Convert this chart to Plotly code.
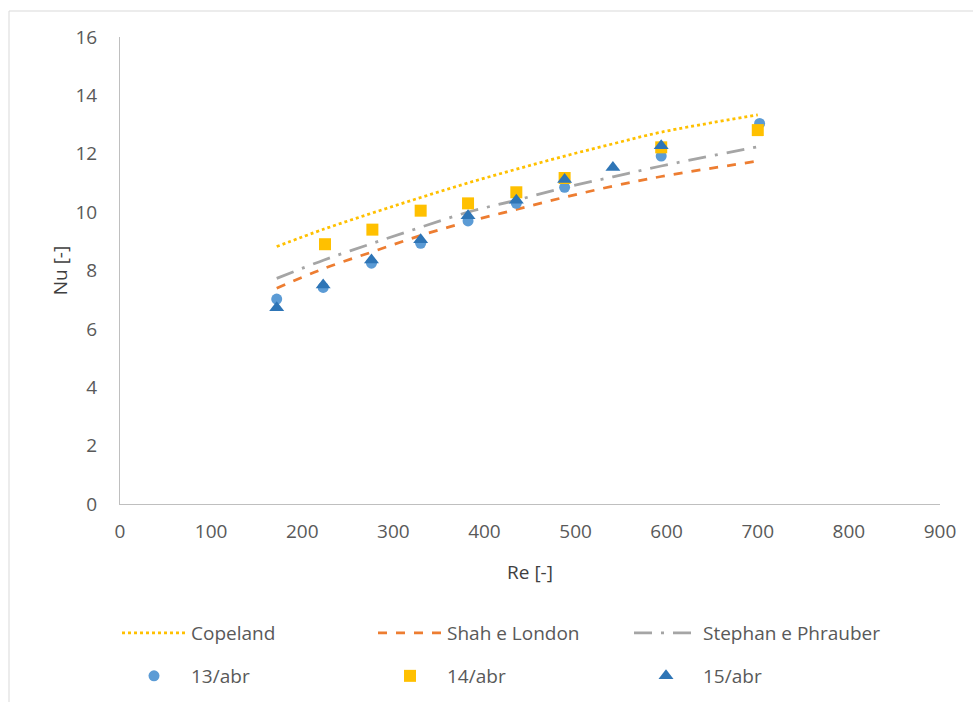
import plotly.graph_objects as go

# Reynolds numbers where the correlations are evaluated
re_corr = [172, 224, 277, 330, 382, 435, 488, 541, 594, 700]
nu_copeland = [8.82, 9.42, 9.97, 10.50, 11.00, 11.47, 11.92, 12.34, 12.74, 13.33]
nu_shah_london = [7.39, 8.07, 8.64, 9.20, 9.67, 10.09, 10.51, 10.89, 11.22, 11.75]
nu_stephan = [7.73, 8.36, 8.93, 9.48, 10.00, 10.41, 10.84, 11.21, 11.58, 12.24]

# Experimental runs
re_13 = [172, 223, 276, 330, 382, 435, 488, 594, 702]
nu_13 = [7.02, 7.42, 8.25, 8.93, 9.70, 10.30, 10.85, 11.92, 13.04]

re_14 = [225, 277, 330, 382, 435, 488, 594, 700]
nu_14 = [8.90, 9.40, 10.05, 10.30, 10.68, 11.17, 12.22, 12.81]

re_15 = [172, 223, 276, 330, 382, 435, 488, 541, 594]
nu_15 = [6.72, 7.50, 8.36, 9.05, 9.88, 10.41, 11.12, 11.53, 12.27]

x_ticks = [0, 100, 200, 300, 400, 500, 600, 700, 800, 900]
y_ticks = [0, 2, 4, 6, 8, 10, 12, 14, 16]

FONT = "Open Sans, Lato, sans-serif"
TXT = "#595959"
FS = 19

fig = go.Figure()

# Correlation curves (first legend row)
fig.add_trace(go.Scatter(
    x=re_corr, y=nu_copeland, mode="lines", name="Copeland", legend="legend",
    line=dict(color="#FFC000", width=2.75, dash="dot", shape="spline"),
))
fig.add_trace(go.Scatter(
    x=re_corr, y=nu_shah_london, mode="lines", name="Shah e London", legend="legend",
    line=dict(color="#ED7D31", width=2.75, dash="dash", shape="spline"),
))
fig.add_trace(go.Scatter(
    x=re_corr, y=nu_stephan, mode="lines", name="Stephan e Phrauber", legend="legend",
    line=dict(color="#A5A5A5", width=2.75, dash="18px,9px,3px,9px", shape="spline"),
))

# Measured points (second legend row)
fig.add_trace(go.Scatter(
    x=re_13, y=nu_13, mode="markers", name="13/abr", legend="legend2",
    marker=dict(symbol="circle", size=11, color="#5B9BD5"),
))
fig.add_trace(go.Scatter(
    x=re_14, y=nu_14, mode="markers", name="14/abr", legend="legend2",
    marker=dict(symbol="square", size=12, color="#FFC000"),
))
fig.add_trace(go.Scatter(
    x=re_15, y=nu_15, mode="markers", name="15/abr", legend="legend2",
    marker=dict(symbol="triangle-up", size=13, color="#2E75B6"),
))

legend_common = dict(
    orientation="h", xref="container", yref="container",
    xanchor="left", yanchor="middle",
    entrywidth=177, entrywidthmode="pixels", itemwidth=64,
    font=dict(family=FONT, size=FS, color=TXT),
    bgcolor="rgba(0,0,0,0)",
)

fig.update_layout(
    width=973, height=702,
    margin=dict(l=120, r=33, t=37, b=198),
    paper_bgcolor="white", plot_bgcolor="white",
    font=dict(family=FONT, size=FS, color=TXT),
    showlegend=True,
    legend=dict(legend_common, x=(120 - 3) / 973, y=1 - 633 / 702),
    legend2=dict(legend_common, x=(120 - 3) / 973, y=1 - 676 / 702),
    xaxis=dict(
        range=[0, 900], tickvals=x_ticks, ticktext=[str(v) for v in x_ticks],
        showgrid=False, zeroline=False, showline=True, linecolor="#BFBFBF", linewidth=1,
        ticks="", ticklabelstandoff=10,
        title=dict(text="Re [-]", font=dict(family=FONT, size=FS, color="#404040"), standoff=22),
    ),
    yaxis=dict(
        range=[0, 16], tickvals=y_ticks, ticktext=[str(v) for v in y_ticks],
        showgrid=False, zeroline=False, showline=True, linecolor="#BFBFBF", linewidth=1,
        ticks="", ticklabelstandoff=18,
        title=dict(text="Nu [-]", font=dict(family=FONT, size=FS, color="#404040"), standoff=2),
    ),
    shapes=[dict(
        type="rect", xref="paper", yref="paper",
        x0=(9 - 120) / 820, x1=(990 - 120) / 820,
        y0=(504 - 720) / 467, y1=(504 - 11) / 467,
        line=dict(color="#D9D9D9", width=1), fillcolor="rgba(0,0,0,0)", layer="below",
    )],
)

fig.write_html("out.html")
